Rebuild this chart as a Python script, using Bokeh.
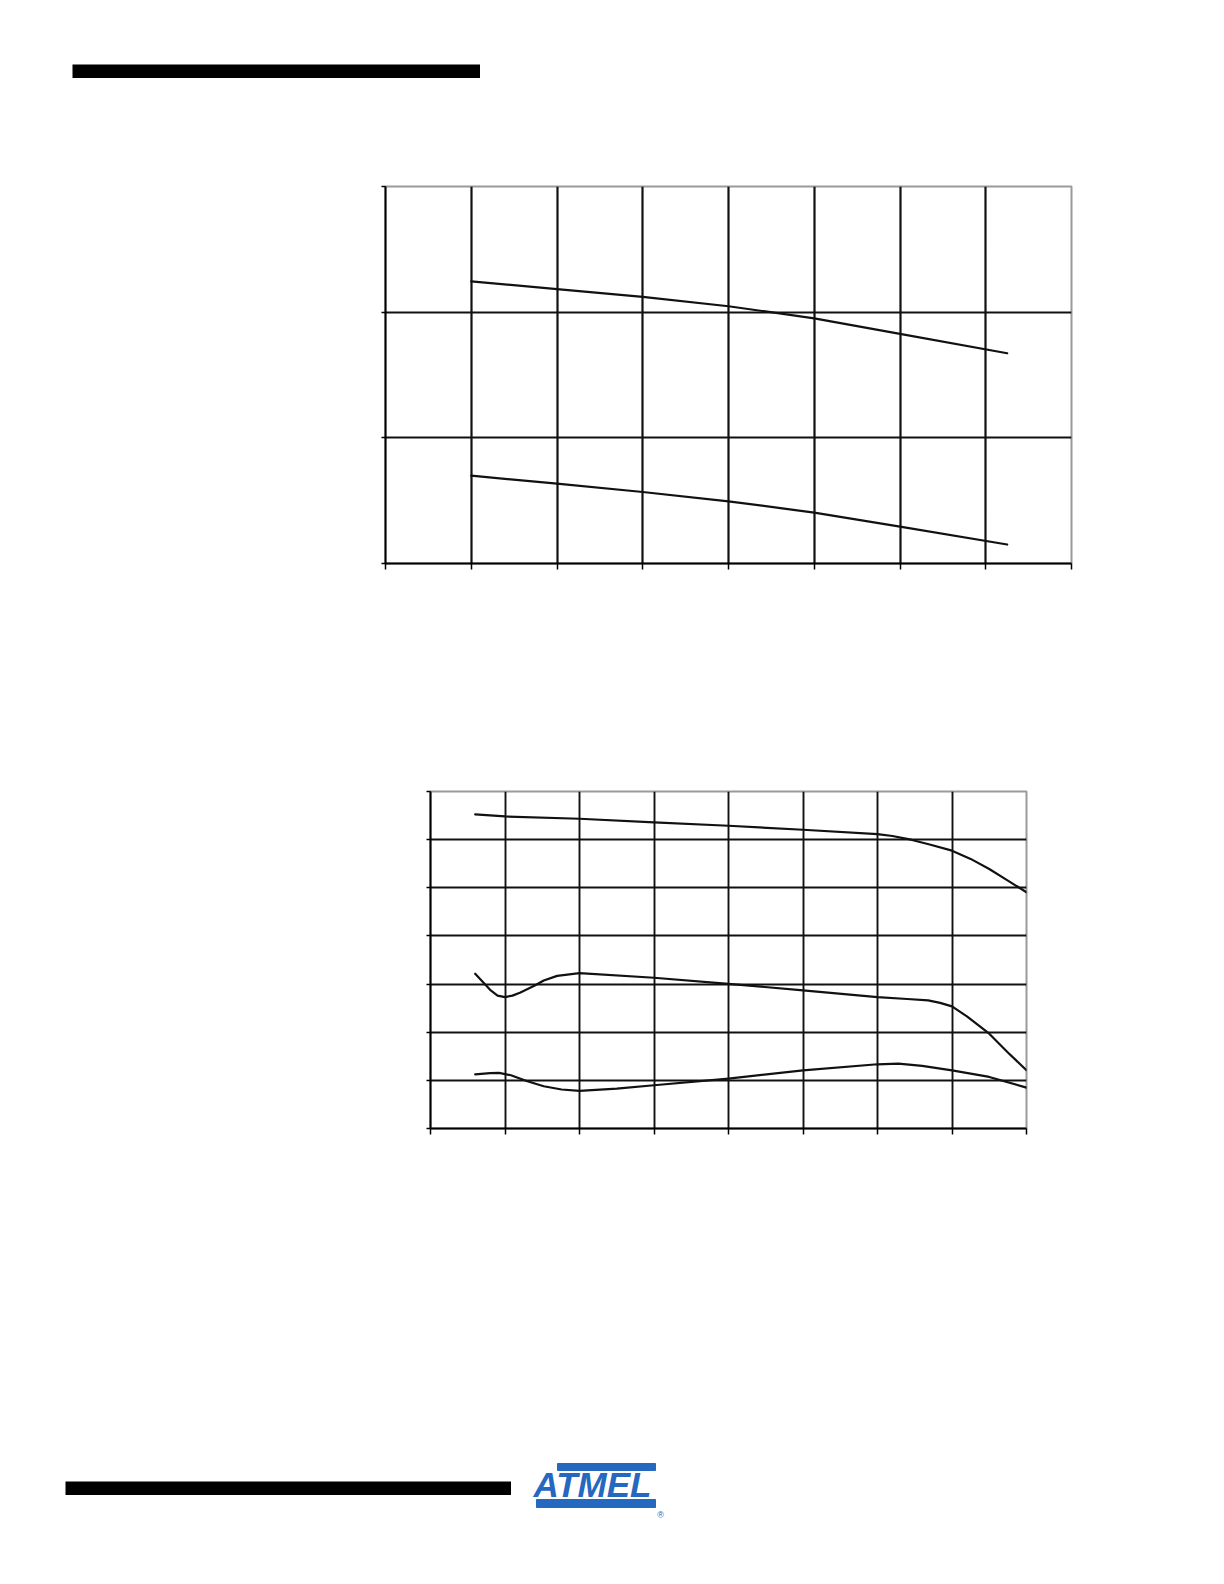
from bokeh.plotting import figure
from bokeh.layouts import column, row
from bokeh.models import Spacer, Range1d, FixedTicker, CustomJSTickFormatter
from bokeh.embed import file_html
from bokeh.resources import INLINE
from bokeh.core.properties import value

# ---------------- data ----------------
# Chart 1: x = temperature grid (-60 .. 100, step 20), y in grid units (0 .. 3)
c1_x_ticks = [-60, -40, -20, 0, 20, 40, 60, 80, 100]
c1_y_ticks = [0, 1, 2, 3]
c1_temp = [-40, -20, 0, 20, 40, 60, 85]
c1_upper = [2.245, 2.184, 2.121, 2.047, 1.951, 1.827, 1.673]
c1_lower = [0.699, 0.635, 0.569, 0.495, 0.405, 0.294, 0.151]

# Chart 2: x = supply voltage grid (1.5 .. 5.5, step 0.5), y in grid units (0 .. 7)
c2_x_ticks = [1.5, 2.0, 2.5, 3.0, 3.5, 4.0, 4.5, 5.0, 5.5]
c2_y_ticks = [0, 1, 2, 3, 4, 5, 6, 7]
c2_top_v = [1.8, 2.0, 2.5, 3.0, 3.5, 4.0, 4.5, 4.6, 4.725, 4.85, 5.0, 5.125, 5.25, 5.375, 5.5]
c2_top_y = [6.524, 6.482, 6.434, 6.358, 6.289, 6.206, 6.116, 6.075, 5.999, 5.90, 5.771, 5.60, 5.390, 5.15, 4.907]
c2_mid_v = [1.8, 1.85, 1.9, 1.95, 2.0, 2.05, 2.1, 2.2, 2.26, 2.35, 2.5, 3.0, 3.5, 4.0, 4.5, 4.7, 4.84,
            4.92, 5.0, 5.1, 5.25, 5.375, 5.5]
c2_mid_y = [3.214, 3.05, 2.88, 2.76, 2.73, 2.76, 2.82, 2.97, 3.075, 3.17, 3.227, 3.131, 3.006, 2.868,
            2.730, 2.69, 2.661, 2.61, 2.536, 2.33, 1.970, 1.58, 1.209]
c2_bot_v = [1.8, 1.9, 1.96, 2.04, 2.15, 2.26, 2.38, 2.5, 2.75, 3.0, 3.5, 4.0, 4.5, 4.64, 4.8, 5.0, 5.25, 5.5]
c2_bot_y = [1.126, 1.15, 1.154, 1.106, 0.98, 0.878, 0.81, 0.781, 0.83, 0.898, 1.037, 1.209, 1.334, 1.348,
            1.30, 1.209, 1.071, 0.850]

logo_text = "ATMEL"

B = 30  # border around each chart frame


def make_chart(fw, fh, xr, yr, xt, yt, series, grid_w):
    p = figure(frame_width=fw, frame_height=fh, output_backend="svg", toolbar_location=None,
               x_range=Range1d(*xr), y_range=Range1d(*yr),
               min_border_left=B, min_border_right=B, min_border_top=B, min_border_bottom=B)
    p.background_fill_color = "white"
    p.border_fill_color = "white"
    p.outline_line_color = "#9a9a9a"
    p.outline_line_width = 2
    for ax in (p.xaxis[0], p.yaxis[0]):
        ax.axis_line_color = "black"
        ax.axis_line_width = 2
        ax.major_tick_line_color = "black"
        ax.major_tick_line_width = 1.5
        ax.major_tick_in = 0
        ax.minor_tick_line_color = None
        ax.formatter = CustomJSTickFormatter(code="return ''")
        ax.major_label_standoff = 0
    p.xaxis[0].ticker = FixedTicker(ticks=xt)
    p.yaxis[0].ticker = FixedTicker(ticks=yt)
    p.xaxis[0].major_tick_out = 6
    p.yaxis[0].major_tick_out = 4
    p.xgrid[0].ticker = FixedTicker(ticks=xt[1:-1])
    p.ygrid[0].ticker = FixedTicker(ticks=yt[1:-1])
    for g in (p.xgrid[0], p.ygrid[0]):
        g.grid_line_color = "#111111"
        g.grid_line_width = grid_w
    for xs, ys in series:
        p.line(xs, ys, line_color="#111111", line_width=2.2, line_join="round", line_cap="round")
    return p


def bar(w, h):
    p = figure(width=w, height=h, output_backend="svg", toolbar_location=None,
               x_axis_type=None, y_axis_type=None, min_border=0)
    p.background_fill_color = "black"
    p.border_fill_color = "black"
    p.outline_line_color = None
    p.grid.visible = False
    return p


chart1 = make_chart(686, 377, (-60, 100), (0, 3), c1_x_ticks, c1_y_ticks,
                    [(c1_temp, c1_upper), (c1_temp, c1_lower)], 2.2)
chart2 = make_chart(596, 337, (1.5, 5.5), (0, 7), c2_x_ticks, c2_y_ticks,
                    [(c2_top_v, c2_top_y), (c2_mid_v, c2_mid_y), (c2_bot_v, c2_bot_y)], 1.9)

header = bar(408, 14)
footer = bar(446, 14)

# Logo
logo = figure(width=140, height=60, output_backend="svg", toolbar_location=None,
              x_axis_type=None, y_axis_type=None, min_border=0,
              x_range=Range1d(0, 140), y_range=Range1d(0, 60))
logo.outline_line_color = None
logo.grid.visible = False
blue = "#2468c0"
logo.quad(left=[29], right=[127], bottom=[49], top=[56], color=blue)
logo.quad(left=[8], right=[127], bottom=[12], top=[20], color=blue)
logo.text(x=[64], y=[35], text=[logo_text], text_color=blue, text_align="center",
          text_baseline="middle", text_font=value("Liberation Sans"),
          text_font_style="bold italic", text_font_size="35px")
logo.text(x=[132], y=[5], text=["®"], text_color=blue, text_align="center",
          text_baseline="middle", text_font=value("Liberation Sans"), text_font_size="9px")

page = column(
    Spacer(height=64),
    row(Spacer(width=72), header),
    Spacer(height=78),
    row(Spacer(width=355), chart1),
    Spacer(height=168),
    row(Spacer(width=400), chart2),
    Spacer(height=301),
    row(Spacer(width=65), column(Spacer(height=22), footer), Spacer(width=17), logo),
)

open("out.html", "w").write(file_html(page, INLINE))
